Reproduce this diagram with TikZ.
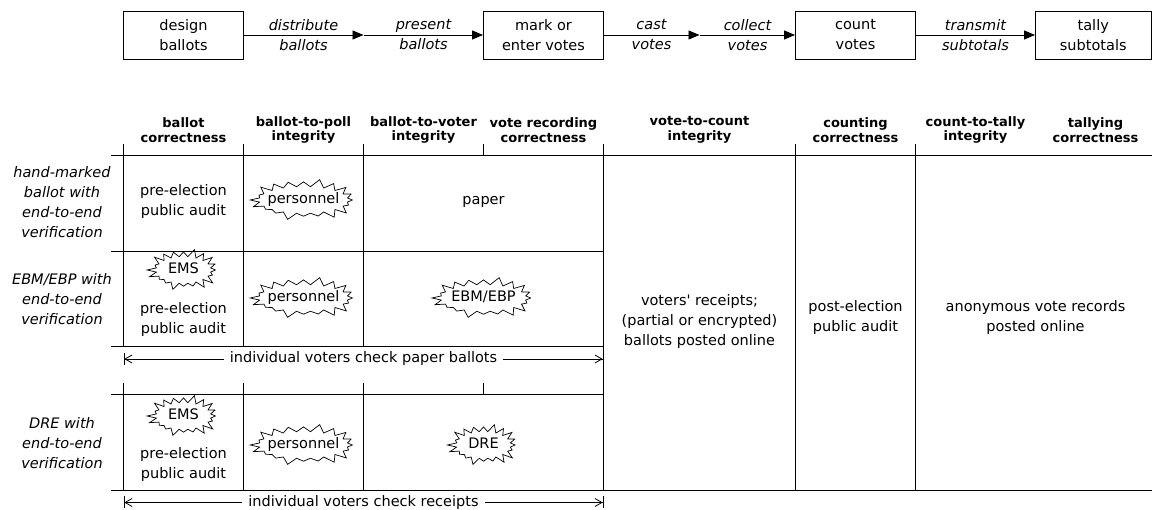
\documentclass[tikz,border=0pt]{standalone}
\usepackage{fontspec}
\setmainfont{DejaVu Sans}
\usetikzlibrary{arrows.meta,shapes.symbols}

\newcommand{\bodysize}{\fontsize{14.5}{20}\selectfont}
\newcommand{\headsize}{\fontsize{13}{14.6}\selectfont}

\tikzset{
  stage/.style={draw, minimum width=120pt, minimum height=48pt, align=center, inner sep=2pt},
  act/.style={align=center, font=\bodysize\itshape},
  flow/.style={-{Triangle[length=11pt,width=9pt]}},
  head/.style={align=center, font=\headsize\bfseries},
  cell/.style={align=center},
  burst/.style={starburst, draw, line width=0.7pt, starburst points=20, starburst point height=9pt,
    random starburst=12, inner xsep=-4.5pt, inner ysep=2.5pt, text height=10.5pt, text depth=3.5pt},
  smallburst/.style={burst, inner xsep=4pt},
  span/.style={line width=0.8pt, {Bar[width=12pt]Straight Barb[length=7pt,width=8pt]}-{Straight Barb[length=7pt,width=8pt]Bar[width=12pt]}},
}

\begin{document}
\begin{tikzpicture}[x=1pt,y=-1pt,line width=0.9pt,font=\bodysize]
\useasboundingbox (0,0) rectangle (1152,510);

% process chain
\node[stage] (design) at (183.5,35) {design\\ballots};
\node[stage] (mark) at (543.5,35) {mark or\\enter votes};
\node[stage] (count) at (855.5,35) {count\\votes};
\node[stage,minimum width=115.5pt] (tally) at (1093.25,35) {tally\\subtotals};
\coordinate (poll) at (363.5,35);
\coordinate (box) at (699.5,35);
\draw[flow] (design) -- (poll);
\draw[flow] (poll) -- (mark);
\draw[flow] (mark) -- (box);
\draw[flow] (box) -- (count);
\draw[flow] (count) -- (tally);
\node[act] (distribute) at (303.5,35) {distribute\\ballots};
\node[act] (present) at (423.5,35) {present\\ballots};
\node[act] (cast) at (651.5,35) {cast\\votes};
\node[act] (collect) at (747.5,35) {collect\\votes};
\node[act] (transmit) at (975.5,35) {transmit\\subtotals};

% column heads
\node[head] (hbc) at (183.5,130) {ballot\\correctness};
\node[head] (hbp) at (303.5,130) {ballot-to-poll\\integrity};
\node[head] (hbv) at (423.5,130) {ballot-to-voter\\integrity};
\node[head] (hvr) at (543.5,130) {vote recording\\correctness};
\node[head] (hvc) at (699.5,130) {vote-to-count\\integrity};
\node[head] (hcc) at (855.5,130) {counting\\correctness};
\node[head] (hct) at (975.5,130) {count-to-tally\\integrity};
\node[head] (htc) at (1095.5,130) {tallying\\correctness};

% grid
\foreach \x in {123.5,243.5,363.5} \draw (\x,144) -- (\x,346.5);
\draw (483.5,144) -- (483.5,155);
\foreach \x in {603.5,795.5,915.5} \draw (\x,144) -- (\x,490.5);
\draw (111,155) -- (1152,155);
\draw (111,251.5) -- (603.5,251.5);
\draw (111,346.5) -- (603.5,346.5);
\foreach \x in {123.5,243.5,363.5} \draw (\x,383) -- (\x,490.5);
\draw (483.5,383) -- (483.5,394.5);
\draw (111,394.5) -- (603.5,394.5);
\draw (111,490.5) -- (1152,490.5);

% rows
\node[act] (hand) at (62,202) {hand-marked\\ballot with\\end-to-end\\verification};
\node[act] (ebm) at (62,299) {EBM/EBP with\\end-to-end\\verification};
\node[act] (dre) at (62,443) {DRE with\\end-to-end\\verification};

\node[cell] (audit1) at (183.5,202) {pre-election\\public audit};
\node[burst] (staff1) at (303.5,200) {personnel};
\node (paper) at (483.5,202) {paper};

\node[smallburst] (ems2) at (183.5,270) {EMS};
\node[cell] (audit2) at (183.5,320) {pre-election\\public audit};
\node[burst] (staff2) at (303.5,298) {personnel};
\node[burst,inner xsep=-2pt] (ebp) at (483.5,298) {EBM/EBP};

\node[smallburst] (ems3) at (183.5,416) {EMS};
\node[cell] (audit3) at (183.5,464) {pre-election\\public audit};
\node[burst] (staff3) at (303.5,445) {personnel};
\node[smallburst] (machine) at (483.5,445) {DRE};

\node[cell] (receipts) at (699.5,322) {voters\textquotesingle{} receipts;\\(partial or encrypted)\\ballots posted online};
\node[cell] (postaudit) at (855.5,318) {post-election\\public audit};
\node[cell] (records) at (1035.5,318) {anonymous vote records\\posted online};

% voter checks
\coordinate (p1l) at (123.5,359);
\coordinate (p1r) at (603.5,359);
\draw[span] (p1l) -- node[fill=white,inner xsep=6pt] (check1) {individual voters check paper ballots} (p1r);
\coordinate (p2l) at (123.5,502.5);
\coordinate (p2r) at (603.5,502.5);
\draw[span] (p2l) -- node[fill=white,inner xsep=6pt] (check2) {individual voters check receipts} (p2r);
\end{tikzpicture}
\end{document}
